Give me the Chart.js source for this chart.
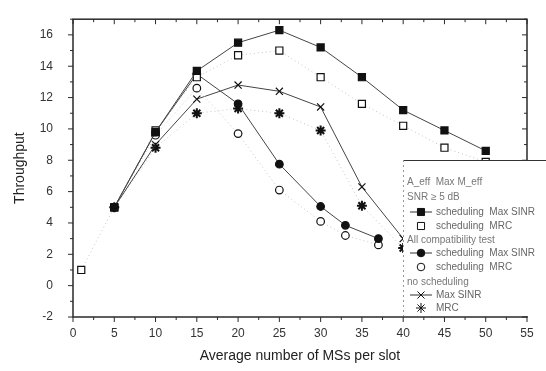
<!DOCTYPE html>
<html>
<head>
<meta charset="utf-8">
<script src="https://cdn.jsdelivr.net/npm/chart.js@4/dist/chart.umd.min.js"></script>
<style>
  html, body { margin: 0; padding: 0; background: #fff; }
  #wrap { width: 546px; height: 371px; position: relative; }
</style>
</head>
<body>
<div id="wrap"><canvas id="myChart"></canvas></div>
<script>
// values
const allX = [5, 10, 15, 20, 25, 30, 35, 40, 45, 50]
const allMaxSinr = [5.0, 9.8, 13.7, 15.5, 16.3, 15.2, 13.3, 11.2, 9.9, 8.6]
const allMrcX = [1, 5, 10, 15, 20, 25, 30, 35, 40, 45, 50]
const allMrc = [1.0, 5.0, 9.9, 13.3, 14.7, 15.0, 13.3, 11.6, 10.2, 8.8, 7.9]
const compX = [5, 10, 15, 20, 25, 30, 33, 37]
const compMaxSinr = [5.0, 9.8, 13.5, 11.6, 7.75, 5.05, 3.85, 3.0]
const compMrc = [5.0, 9.6, 12.6, 9.7, 6.1, 4.1, 3.2, 2.6]
const noSchX = [5, 10, 15, 20, 25, 30, 35, 40]
const noSchMaxSinr = [5.0, 9.0, 11.9, 12.8, 12.4, 11.4, 6.3, 3.0]
const noSchMrc = [5.0, 8.8, 11.0, 11.3, 11.0, 9.9, 5.1, 2.4]

const xTicks = [0, 5, 10, 15, 20, 25, 30, 35, 40, 45, 50, 55]
const yTicks = [-2, 0, 2, 4, 6, 8, 10, 12, 14, 16]

const legendRows = [
    { text: 'A_eff  Max M_eff' },
    { text: 'SNR \u2265 5 dB' },
    { text: 'scheduling  Max SINR', style: 'rect', fill: true, line: true },
    { text: 'scheduling  MRC', style: 'rect', fill: false },
    { text: 'All compatibility test' },
    { text: 'scheduling  Max SINR', style: 'circle', fill: true, line: true },
    { text: 'scheduling  MRC', style: 'circle', fill: false },
    { text: 'no scheduling' },
    { text: 'Max SINR', style: 'crossRot', fill: false, line: true },
    { text: 'MRC', style: 'star', fill: false }
]

function pts(xs, ys) {
    return xs.map((x, i) => ({ x: x, y: ys[i] }))
}

const dark = '#2a2a2a'

function series(label, xs, ys, style, filled, solid) {
    let r = style === 'rect' ? 5 : (style === 'circle' ? 3.8 : 5)
    return {
        label: label,
        data: pts(xs, ys),
        showLine: true,
        borderColor: solid ? '#444' : '#c4c4c4',
        borderWidth: 1,
        borderDash: solid ? [] : [1, 3],
        pointStyle: style,
        pointRadius: r,
        pointBorderColor: '#111',
        pointBackgroundColor: filled ? '#111' : '#fff',
        pointBorderWidth: style === 'star' ? 2 : 1.2,
        tension: 0
    }
}

const framePlugin = {
    id: 'frame',
    afterDatasetsDraw(chart) {
        const ctx = chart.ctx
        const a = chart.chartArea
        const xs = chart.scales.x
        const ys = chart.scales.y
        ctx.save()
        ctx.strokeStyle = dark
        ctx.lineWidth = 1.5
        ctx.strokeRect(a.left, a.top, a.right - a.left, a.bottom - a.top)
        ctx.lineWidth = 1
        ctx.beginPath()
        for (let v = 0; v <= 55; v += 2.5) {
            let px = xs.getPixelForValue(v)
            let len = v % 5 === 0 ? 5 : 3
            ctx.moveTo(px, a.bottom); ctx.lineTo(px, a.bottom + len)
            ctx.moveTo(px, a.top); ctx.lineTo(px, a.top + len)
        }
        for (let v = -2; v <= 17; v += 1) {
            let py = ys.getPixelForValue(v)
            let len = v % 2 === 0 ? 5 : 3
            ctx.moveTo(a.left, py); ctx.lineTo(a.left - len, py)
            ctx.moveTo(a.right, py); ctx.lineTo(a.right - len, py)
        }
        ctx.stroke()
        ctx.restore()
    },
    afterDraw(chart) {
        const ctx = chart.ctx
        const h = Chart.helpers
        const box = { left: 403, top: 160, right: 546, bottom: 316 }
        ctx.save()
        ctx.fillStyle = '#fff'
        ctx.fillRect(box.left, box.top, box.right - box.left, box.bottom - box.top)
        ctx.strokeStyle = '#333'
        ctx.lineWidth = 1
        ctx.beginPath()
        ctx.moveTo(box.left, box.top + 0.5); ctx.lineTo(box.right, box.top + 0.5)
        ctx.stroke()
        ctx.strokeStyle = '#999'
        ctx.setLineDash([2, 3])
        ctx.beginPath()
        ctx.moveTo(box.left + 0.5, box.top); ctx.lineTo(box.left + 0.5, box.bottom)
        ctx.stroke()
        ctx.setLineDash([])

        ctx.font = '10px "Liberation Sans", Arial, sans-serif'
        ctx.textBaseline = 'middle'
        const rowY = [182, 197, 212, 226, 240, 253, 267, 282, 295, 308]
        legendRows.forEach((row, i) => {
            let y = rowY[i]
            if (!row.style) {
                ctx.fillStyle = '#777'
                ctx.fillText(row.text, 407, y)
                return
            }
            let mx = 421
            if (row.line) {
                ctx.strokeStyle = '#333'
                ctx.lineWidth = 1
                ctx.beginPath()
                ctx.moveTo(mx - 11, y); ctx.lineTo(mx + 11, y)
                ctx.stroke()
            }
            ctx.fillStyle = row.fill ? '#111' : '#fff'
            ctx.strokeStyle = '#111'
            let r = row.style === 'rect' ? 5 : (row.style === 'circle' ? 3.8 : 5)
            h.drawPoint(ctx, { pointStyle: row.style, radius: r, rotation: 0, borderWidth: row.style === 'star' ? 2 : 1.2 }, mx, y)
            ctx.fillStyle = '#666'
            ctx.fillText(row.text, 436, y)
        })
        ctx.restore()
    }
}

let ctx = document.getElementById('myChart').getContext('2d')
let myChart = new Chart(ctx, {
    type: 'line',
    data: {
        datasets: [
            series('all Max SINR', allX, allMaxSinr, 'rect', true, true),
            series('all MRC', allMrcX, allMrc, 'rect', false, false),
            series('compatibility Max SINR', compX, compMaxSinr, 'circle', true, true),
            series('compatibility MRC', compX, compMrc, 'circle', false, false),
            series('no scheduling Max SINR', noSchX, noSchMaxSinr, 'crossRot', false, true),
            series('no scheduling MRC', noSchX, noSchMrc, 'star', false, false)
        ]
    },
    options: {
        animation: false,
        responsive: true,
        maintainAspectRatio: false,
        layout: { padding: { top: 11, right: 19, left: 0, bottom: 0 } },
        plugins: {
            legend: { display: false },
            tooltip: { enabled: false }
        },
        scales: {
            x: {
                type: 'linear',
                min: 0,
                max: 55,
                afterFit(s) { s.height = 54 },
                afterBuildTicks(s) { s.ticks = xTicks.map(v => ({ value: v })) },
                grid: { display: false },
                border: { display: false },
                ticks: {
                    color: '#333',
                    padding: 1,
                    maxRotation: 0,
                    font: { family: '"Liberation Sans", Arial, sans-serif', size: 12 }
                },
                title: {
                    display: true,
                    text: 'Average number of MSs per slot',
                    color: '#222',
                    padding: { top: 0, bottom: 6 },
                    font: { family: '"Liberation Sans", Arial, sans-serif', size: 14 }
                }
            },
            y: {
                min: -2,
                max: 17,
                afterFit(s) { s.width = 73 },
                afterBuildTicks(s) { s.ticks = yTicks.map(v => ({ value: v })) },
                grid: { display: false },
                border: { display: false },
                ticks: {
                    color: '#333',
                    padding: 12,
                    font: { family: '"Liberation Sans", Arial, sans-serif', size: 12 }
                },
                title: {
                    display: true,
                    text: 'Throughput',
                    color: '#222',
                    padding: { top: 12, bottom: 0 },
                    font: { family: '"Liberation Sans", Arial, sans-serif', size: 14 }
                }
            }
        }
    },
    plugins: [framePlugin]
})
</script>
</body>
</html>
